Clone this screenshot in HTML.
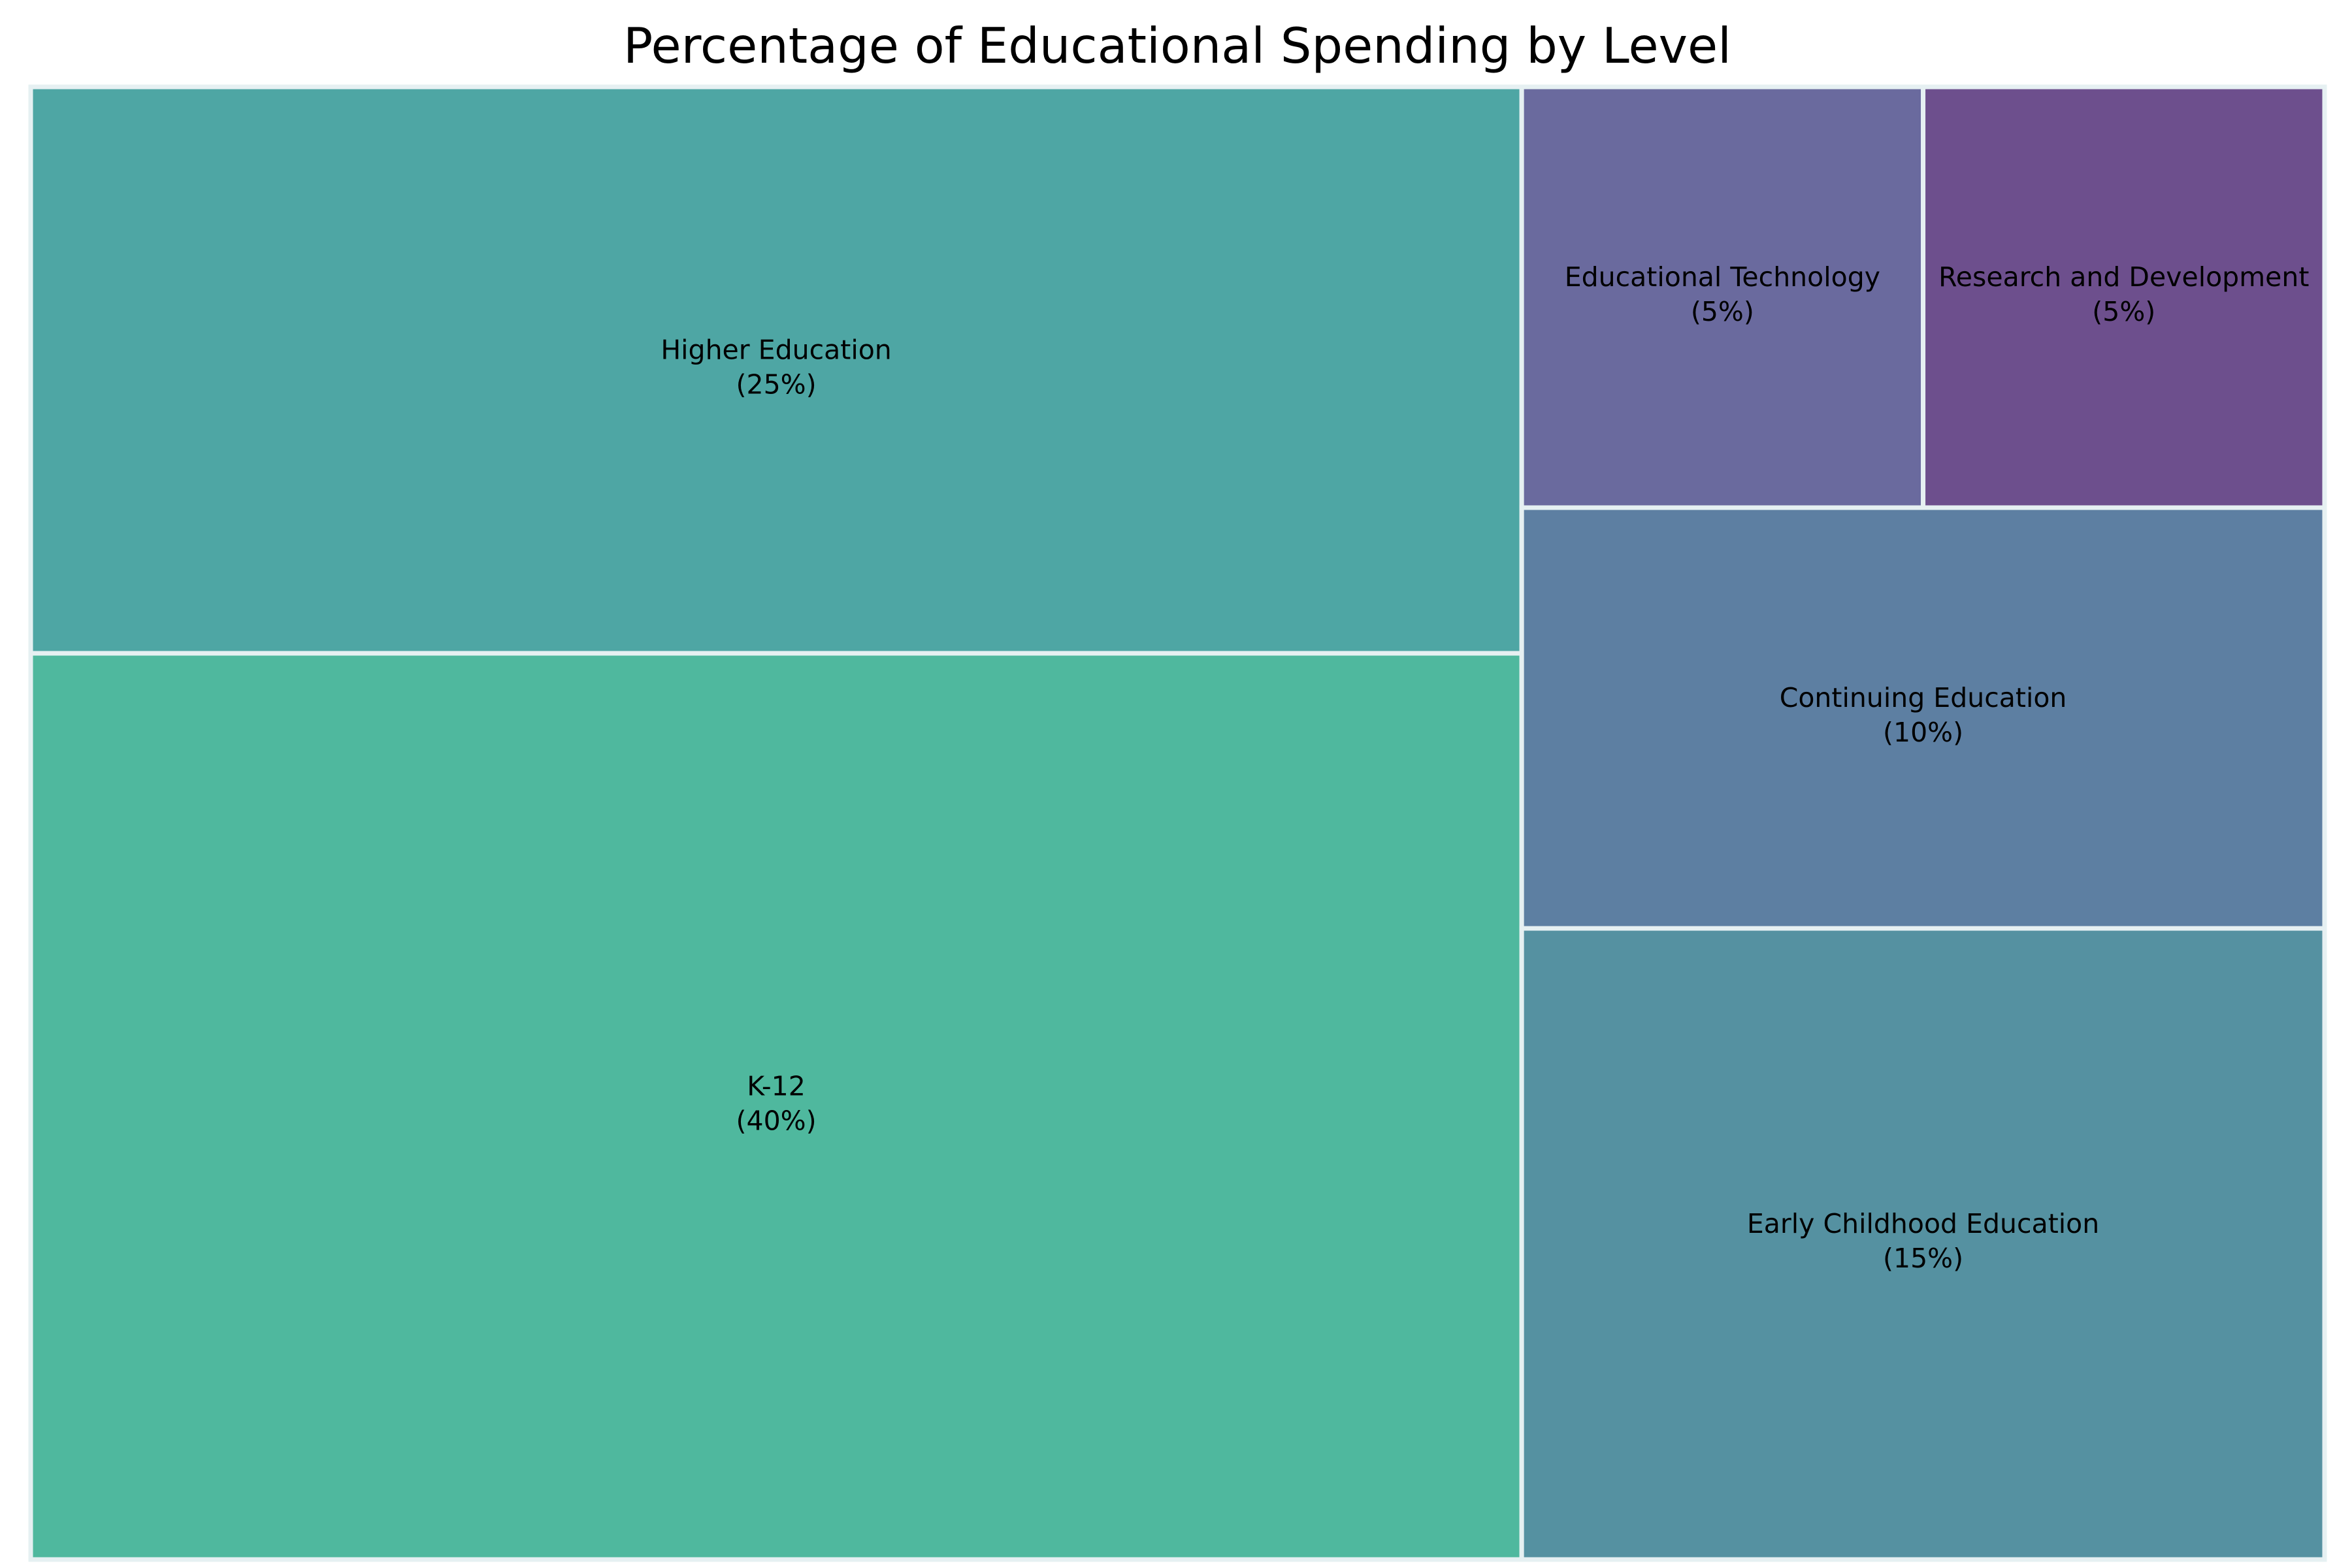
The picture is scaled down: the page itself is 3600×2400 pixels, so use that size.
<!DOCTYPE html>
<html><head><meta charset="utf-8"><style>
html,body{margin:0;padding:0;background:#fff;}
svg{display:block;font-family:"DejaVu Sans","Liberation Sans",sans-serif;}
</style></head><body>
<svg id="chart" width="3600" height="2400" viewBox="0 0 3600 2400" xmlns="http://www.w3.org/2000/svg">
<rect width="3600" height="2400" fill="#ffffff"/>
<text x="1802" y="96" text-anchor="middle" font-size="75" fill="#000">Percentage of Educational Spending by Level</text>
<g id="rects"></g>
</svg>
<script>
const categories = ["K-12","Higher Education","Early Childhood Education","Continuing Education","Educational Technology","Research and Development"];
const values = [40,25,15,10,5,5];
const colors = ["#4fb89e","#4ea6a4","#5591a1","#5d7fa2","#6a6a9e","#6d4f8d"];

const X0=47, Y0=133, W=3511, H=2254;
const NW=100, NH=100;

function layout(s,x,y,dx,dy){
  const sum=s.reduce((a,b)=>a+b,0); const out=[];
  if(dx>=dy){ const w=sum/dy; let yy=y; for(const v of s){const h=v/w; out.push({x:x,y:yy,dx:w,dy:h}); yy+=h;} }
  else { const h=sum/dx; let xx=x; for(const v of s){const w=v/h; out.push({x:xx,y:y,dx:w,dy:h}); xx+=w;} }
  return out;
}
function leftover(s,x,y,dx,dy){
  const sum=s.reduce((a,b)=>a+b,0);
  if(dx>=dy){const w=sum/dy; return [x+w,y,dx-w,dy];}
  const h=sum/dx; return [x,y+h,dx,dy-h];
}
function worst(s,x,y,dx,dy){
  return Math.max(...layout(s,x,y,dx,dy).map(r=>Math.max(r.dx/r.dy,r.dy/r.dx)));
}
function squarify(s,x,y,dx,dy){
  if(!s.length) return [];
  if(s.length===1) return layout(s,x,y,dx,dy);
  let i=1;
  while(i<s.length && worst(s.slice(0,i),x,y,dx,dy)>=worst(s.slice(0,i+1),x,y,dx,dy)) i++;
  const cur=s.slice(0,i), rem=s.slice(i);
  const lo=leftover(cur,x,y,dx,dy);
  return layout(cur,x,y,dx,dy).concat(squarify(rem,lo[0],lo[1],lo[2],lo[3]));
}
const total=values.reduce((a,b)=>a+b,0);
const norm=values.map(v=>v*NW*NH/total);
const rects=squarify(norm,0,0,NW,NH);
const sxF=W/NW, syF=H/NH;
const g=document.getElementById('rects');
const NS="http://www.w3.org/2000/svg";
rects.forEach((r,i)=>{
  const rw=r.dx*sxF, rh=r.dy*syF;
  const sx=X0+r.x*sxF, sy=Y0+H-(r.y*syF+rh);
  const el=document.createElementNS(NS,'rect');
  el.setAttribute('x',sx); el.setAttribute('y',sy);
  el.setAttribute('width',rw); el.setAttribute('height',rh);
  el.setAttribute('fill',colors[i]); el.setAttribute('stroke','#e6f0f2'); el.setAttribute('stroke-width','7');
  
  
  g.appendChild(el);
  const cx=sx+rw/2, cy=sy+rh/2;
  const t=document.createElementNS(NS,'text');
  t.setAttribute('x',cx); t.setAttribute('text-anchor','middle'); t.setAttribute('font-size','41'); t.setAttribute('fill','#000');
  
  
  const a=document.createElementNS(NS,'tspan'); a.setAttribute('x',cx); a.setAttribute('y',cy-17); a.textContent=categories[i];
  const b=document.createElementNS(NS,'tspan'); b.setAttribute('x',cx); b.setAttribute('y',cy+36); b.textContent='('+values[i]+'%)';
  t.appendChild(a); t.appendChild(b);
  g.appendChild(t);
});
</script>
</body></html>
